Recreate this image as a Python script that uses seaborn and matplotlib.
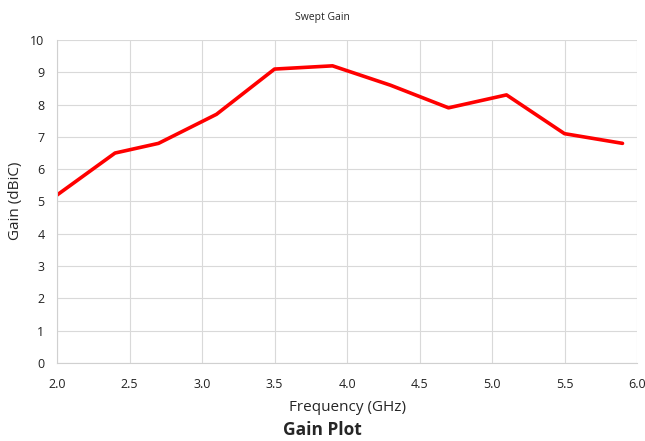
import matplotlib
matplotlib.use("Agg")
import matplotlib.pyplot as plt
import pandas as pd
import seaborn as sns

FREQ_GHZ = [2.0, 2.4, 2.7, 3.1, 3.5, 3.9, 4.3, 4.7, 5.1, 5.5, 5.9]
GAIN_DBIC = [5.2, 6.5, 6.8, 7.7, 9.1, 9.2, 8.6, 7.9, 8.3, 7.1, 6.8]
X_TICKS = [2.0, 2.5, 3.0, 3.5, 4.0, 4.5, 5.0, 5.5, 6.0]
Y_TICKS = list(range(0, 11))

sns.set_theme(style="whitegrid")
plt.rcParams["font.family"] = ["Open Sans", "DejaVu Sans"]

df = pd.DataFrame({"freq": FREQ_GHZ, "gain": GAIN_DBIC})

fig = plt.figure(figsize=(6.45, 4.41), dpi=100)
ax = fig.add_axes([0.0884, 0.1769, 0.8992, 0.7324])
sns.lineplot(data=df, x="freq", y="gain", color="#ff0000", linewidth=2.6, ax=ax)

ax.set_xlim(2.0, 6.0)
ax.set_ylim(0, 10)
ax.set_xticks(X_TICKS)
ax.set_xticklabels([f"{t:.1f}" for t in X_TICKS])
ax.set_yticks(Y_TICKS)
ax.grid(True, color="#d9d9d9", linewidth=0.8)
for name, sp in ax.spines.items():
    sp.set_visible(name in ("left", "bottom"))
    sp.set_color("#d0d0d0")
    sp.set_linewidth(0.8)
ax.tick_params(axis="both", length=0, labelsize=9, colors="#222222")
ax.tick_params(axis="x", pad=11)
ax.tick_params(axis="y", pad=9)

ax.set_xlabel("Frequency (GHz)", fontsize=11, labelpad=6)
ax.set_ylabel("")
fig.text(0.024, 0.545, "Gain (dBiC)", rotation=90, ha="center", va="center", fontsize=11)
fig.text(0.5, 0.96, "Swept Gain", ha="center", va="center", fontsize=7.5)
fig.text(0.5, 0.004, "Gain Plot", ha="center", va="bottom", fontsize=12.5, fontweight="bold")

fig.savefig("out.png", dpi=100)
